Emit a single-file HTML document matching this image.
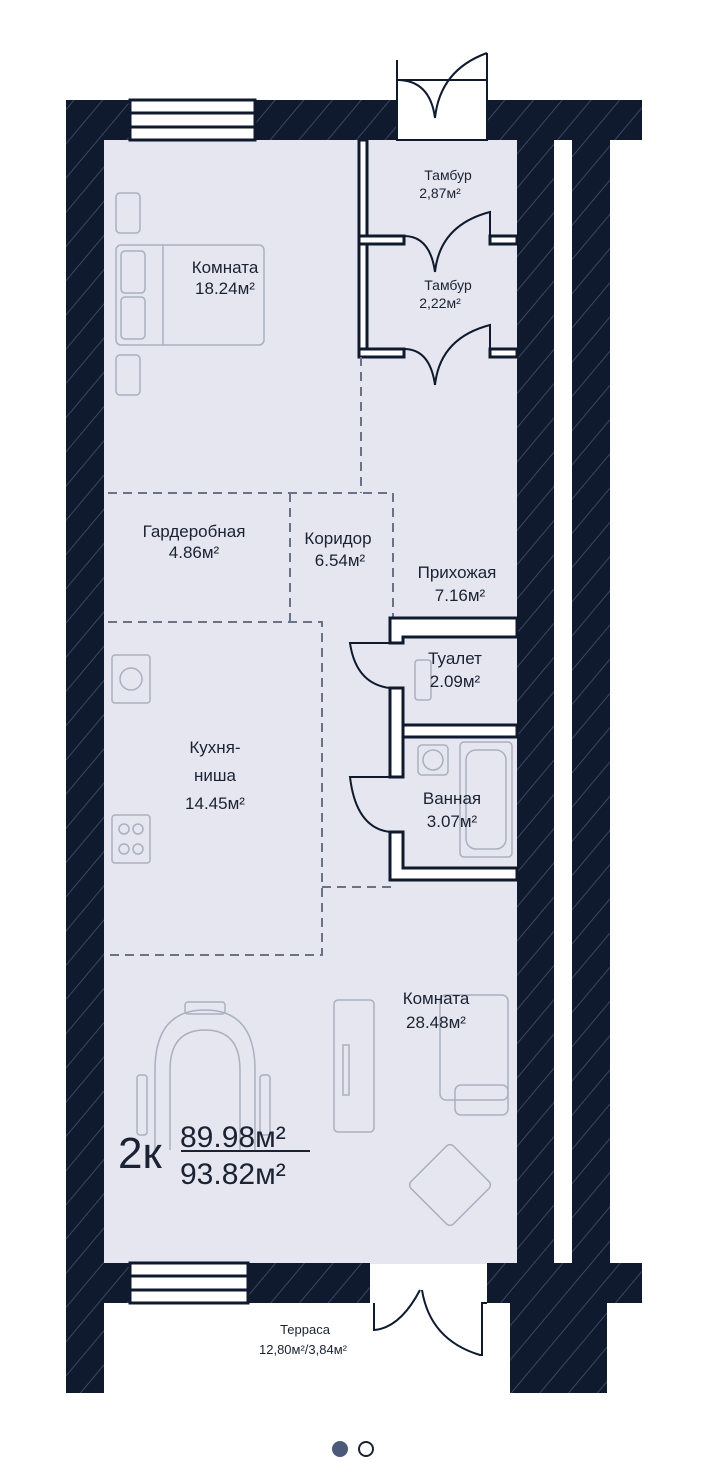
<!DOCTYPE html>
<html><head><meta charset="utf-8"><style>
html,body{margin:0;padding:0;background:#fff;}
svg{display:block;}
text{font-family:"Liberation Sans",sans-serif;fill:#1a2233;}
</style></head><body>
<svg width="725" height="1478" viewBox="0 0 725 1478" xmlns="http://www.w3.org/2000/svg">
<defs>
<pattern id="h" patternUnits="userSpaceOnUse" width="22" height="22" patternTransform="rotate(-50)">
<rect width="22" height="22" fill="#0f1a2e"/>
<line x1="0" y1="11" x2="22" y2="11" stroke="#3b4660" stroke-width="1"/>
</pattern>
</defs>
<rect x="104" y="140" width="414" height="1124" fill="#e5e6ef"/>
<g fill="url(#h)">
<rect x="66" y="100" width="38" height="1293"/>
<rect x="66" y="100" width="64" height="40"/>
<rect x="255" y="100" width="142" height="40"/>
<rect x="487" y="100" width="155" height="40"/>
<rect x="517" y="100" width="37" height="1163"/>
<rect x="572" y="100" width="38" height="1163"/>
<rect x="66" y="1263" width="64" height="40"/>
<rect x="248" y="1263" width="122" height="40"/>
<rect x="487" y="1263" width="155" height="40"/>
<rect x="510" y="1263" width="97" height="130"/>
</g>
<rect x="554" y="140" width="18" height="1123" fill="#fff"/>
<g stroke="#0f1a2e" stroke-width="3" fill="#fff">
<rect x="130" y="100" width="125" height="40"/>
<line x1="130" y1="113" x2="255" y2="113"/><line x1="130" y1="127" x2="255" y2="127"/>
<rect x="130" y="1263" width="118" height="40"/>
<line x1="130" y1="1276" x2="248" y2="1276"/><line x1="130" y1="1290" x2="248" y2="1290"/>
</g>
<g fill="none" stroke="#0f1a2e" stroke-width="2">
<rect x="397" y="80" width="90" height="60" fill="#fff"/>
<path d="M397 80 L397 60"/><path d="M487 80 L487 53"/>
<path d="M397 80 Q430 80 435 118"/><path d="M487 53 Q440 70 435 118"/>
</g>
<!-- terrace door -->
<g fill="none" stroke="#0f1a2e" stroke-width="2">
<path d="M374 1303 L374 1330 Q400 1328 420 1290"/>
<path d="M487 1303 L482 1303 L482 1355 L480 1355 Q430 1340 422 1290"/>
</g>
<g fill="#fff" stroke="#0f1a2e" stroke-width="3">
<rect x="359" y="140" width="8" height="217"/>
<rect x="359" y="236" width="45" height="8"/>
<rect x="490" y="236" width="27" height="8"/>
<rect x="359" y="349" width="45" height="8"/>
<rect x="490" y="349" width="27" height="8"/>
</g>
<g fill="none" stroke="#0f1a2e" stroke-width="2">
<path d="M404 244 L404 236 Q430 236 435 272"/><path d="M490 236 L490 212 Q440 225 435 272"/>
<path d="M404 357 L404 349 Q430 349 435 385"/><path d="M490 349 L490 325 Q440 338 435 385"/>
</g>
<g stroke="#6b7286" stroke-width="2" stroke-dasharray="9,6" fill="none">
<path d="M361 357 L361 493"/>
<path d="M108 493 L393 493 L393 620"/>
<path d="M290 493 L290 622"/>
<path d="M108 622 L322 622 L322 955 L108 955"/>
<path d="M322 887 L392 887"/>
</g>
<g fill="#fff" stroke="#0f1a2e" stroke-width="3">
<path d="M390 618 L517 618 L517 637 L403 637 L403 643 L390 643 Z"/>
<rect x="390" y="688" width="13" height="89"/>
<rect x="403" y="725" width="114" height="12"/>
<path d="M390 832 L403 832 L403 868 L517 868 L517 880 L390 880 Z"/>
</g>
<g fill="none" stroke="#0f1a2e" stroke-width="2">
<path d="M390 643 L350 643 Q356 684 390 688"/>
<path d="M390 777 L350 777 Q356 828 390 832"/>
</g>
<g fill="none" stroke="#aab0c0" stroke-width="1.5">
<rect x="116" y="193" width="24" height="40" rx="4"/>
<rect x="116" y="245" width="148" height="100" rx="5"/>
<line x1="163" y1="245" x2="163" y2="345"/>
<rect x="121" y="251" width="24" height="42" rx="4"/><rect x="121" y="297" width="24" height="42" rx="4"/>
<rect x="116" y="355" width="24" height="40" rx="4"/>
<rect x="112" y="655" width="38" height="48" rx="3"/><circle cx="131" cy="679" r="11"/>
<rect x="112" y="815" width="38" height="48" rx="3"/>
<circle cx="124" cy="829" r="5"/><circle cx="138" cy="829" r="5"/><circle cx="124" cy="849" r="5"/><circle cx="138" cy="849" r="5"/>
<path d="M155 1150 L155 1070 Q155 1010 205 1010 Q255 1010 255 1070 L255 1150"/>
<path d="M170 1150 L170 1070 Q170 1030 205 1030 Q240 1030 240 1070 L240 1150"/>
<rect x="185" y="1002" width="40" height="12" rx="3"/>
<rect x="137" y="1075" width="10" height="60" rx="3"/><rect x="260" y="1075" width="10" height="60" rx="3"/>
<rect x="334" y="1000" width="40" height="132" rx="4"/>
<rect x="343" y="1045" width="6" height="50"/>
<rect x="440" y="995" width="68" height="105" rx="6"/>
<rect x="455" y="1085" width="53" height="30" rx="6"/>
<rect x="420" y="1155" width="60" height="60" rx="5" transform="rotate(45 450 1185)"/>
<rect x="415" y="660" width="16" height="40" rx="3"/>
<rect x="418" y="745" width="30" height="30" rx="4"/><circle cx="433" cy="760" r="10"/>
<rect x="460" y="742" width="52" height="115" rx="4"/><rect x="466" y="750" width="40" height="99" rx="10"/>
</g>
<g text-anchor="middle" font-size="17">
<text x="225" y="273">Комната</text><text x="225" y="294">18.24м²</text>
<text x="448" y="180" font-size="14">Тамбур</text><text x="440" y="198" font-size="14">2,87м²</text>
<text x="448" y="290" font-size="14">Тамбур</text><text x="440" y="308" font-size="14">2,22м²</text>
<text x="194" y="537">Гардеробная</text><text x="194" y="558">4.86м²</text>
<text x="338" y="544">Коридор</text><text x="340" y="566">6.54м²</text>
<text x="457" y="578">Прихожая</text><text x="460" y="601">7.16м²</text>
<text x="455" y="664">Туалет</text><text x="455" y="687">2.09м²</text>
<text x="215" y="753">Кухня-</text><text x="215" y="781">ниша</text><text x="215" y="809">14.45м²</text>
<text x="452" y="804">Ванная</text><text x="452" y="827">3.07м²</text>
<text x="436" y="1004">Комната</text><text x="436" y="1028">28.48м²</text>
<text x="305" y="1334" font-size="13">Терраса</text><text x="303" y="1354" font-size="13">12,80м²/3,84м²</text>
</g>
<text x="118" y="1168" font-size="44">2к</text>
<text x="180" y="1147" font-size="30">89.98м²</text>
<line x1="181" y1="1151" x2="310" y2="1151" stroke="#1a2233" stroke-width="2"/>
<text x="180" y="1184" font-size="30">93.82м²</text>
<circle cx="340" cy="1449" r="8" fill="#4a5a78"/>
<circle cx="366" cy="1449" r="7" fill="#fff" stroke="#1a2233" stroke-width="2"/>
</svg>
</body></html>
